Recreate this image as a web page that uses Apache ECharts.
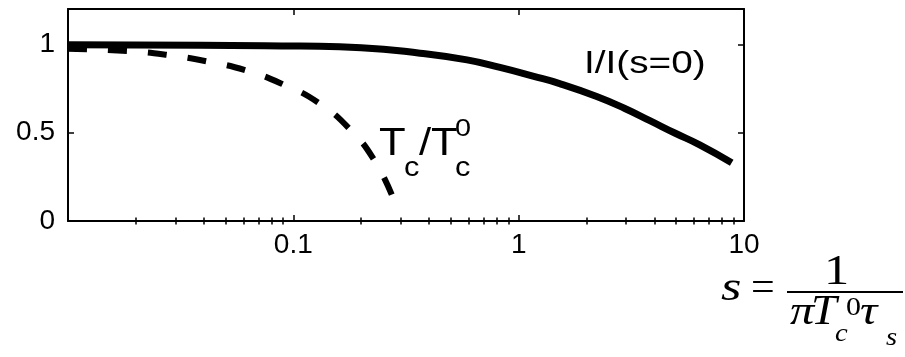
<!DOCTYPE html>
<html>
<head>
<meta charset="utf-8">
<script src="https://cdn.jsdelivr.net/npm/echarts@6/dist/echarts.min.js"></script>
<style>
  html, body { margin: 0; padding: 0; background: #fff; }
  #chart { width: 905px; height: 357px; }
</style>
</head>
<body>
<div id="chart"></div>
<script>
// Pair-breaking parameter s and the two normalised quantities
const sCurrent = [0.01, 0.039, 0.107, 0.2, 0.365, 0.59, 0.826, 1.157, 1.52, 2.22, 2.96, 3.82, 4.93, 6.36, 8.82];
const currentRatio = [0.998, 0.995, 0.99, 0.981, 0.95, 0.912, 0.869, 0.82, 0.778, 0.705, 0.637, 0.568, 0.498, 0.431, 0.33];

const sTc = [0.01, 0.0185, 0.0276, 0.0415, 0.0618, 0.0902, 0.129, 0.179, 0.231, 0.277];
const tcRatio = [0.975, 0.962, 0.94, 0.903, 0.852, 0.773, 0.67, 0.517, 0.335, 0.13];

// Axis ticks
const xLabelTicks = [0.1, 1, 10];
const xMinorTicks = [0.02, 0.03, 0.04, 0.05, 0.06, 0.07, 0.08, 0.09,
                     0.2, 0.3, 0.4, 0.5, 0.6, 0.7, 0.8, 0.9,
                     2, 3, 4, 5, 6, 7, 8, 9];
const yTicks = [0, 0.5, 1];

const toPairs = (xs, ys) => xs.map((x, i) => [x, ys[i]]);
const fmt = v => String(parseFloat(Number(v).toPrecision(3)));

const sansFont = '"Liberation Sans", Arial, sans-serif';
const serifFont = '"Liberation Serif", "Times New Roman", serif';

const chart = echarts.init(document.getElementById('chart'), null, { renderer: 'canvas' });

// Main logarithmic axes: frame line, decade ticks, labels
function xLogAxis(position, labels) {
  return {
    type: 'log', logBase: 10, min: 0.01, max: 10, position: position,
    axisLine: { show: true, onZero: false, lineStyle: { color: '#000', width: 2 } },
    axisTick: { show: true, inside: true, length: 6, lineStyle: { color: '#000', width: 1.5 } },
    axisLabel: labels ? {
      show: true, customValues: xLabelTicks, formatter: fmt, margin: 10,
      color: '#000', fontFamily: sansFont, fontSize: 28
    } : { show: false },
    splitLine: { show: false }, minorTick: { show: false }
  };
}

// Helper axes carrying the 2..9 minor ticks, laid out in decades (log10 units)
function xMinorAxis(position) {
  return {
    type: 'value', min: -2, max: 1, position: position,
    axisLine: { show: false },
    axisTick: { show: true, inside: true, length: 3.5,
                customValues: xMinorTicks.map(v => Math.log10(v)),
                lineStyle: { color: '#000', width: 1.5 } },
    axisLabel: { show: false },
    splitLine: { show: false }
  };
}

function yAxisDef(position, labels) {
  return {
    type: 'value', min: 0, max: 1.2, position: position,
    axisLine: { show: true, onZero: false, lineStyle: { color: '#000', width: 2 } },
    axisTick: { show: true, inside: true, length: 6, customValues: yTicks,
                lineStyle: { color: '#000', width: 1.5 } },
    axisLabel: labels ? {
      show: true, customValues: yTicks, formatter: fmt, margin: 13,
      color: '#000', fontFamily: sansFont, fontSize: 28
    } : { show: false },
    splitLine: { show: false }
  };
}

function txt(text, x, y, font, sx) {
  return {
    type: 'text', x: x, y: y, scaleX: sx || 1, silent: true,
    style: { text: text, font: font, fill: '#000', textAlign: 'left', textVerticalAlign: 'middle' }
  };
}

const option = {
  animation: false,
  backgroundColor: '#fff',
  grid: { left: 68, right: 161, top: 9, bottom: 136, containLabel: false },
  xAxis: [
    xLogAxis('bottom', true),
    xLogAxis('top', false),
    xMinorAxis('bottom'),
    xMinorAxis('top')
  ],
  yAxis: [yAxisDef('left', true), yAxisDef('right', false)],
  series: [
    {
      name: 'I/I(s=0)', type: 'line', xAxisIndex: 0, yAxisIndex: 0,
      data: toPairs(sCurrent, currentRatio),
      smooth: 0.5, showSymbol: false, silent: true,
      lineStyle: { color: '#000', width: 7, cap: 'butt', join: 'round' }
    },
    {
      name: 'Tc/Tc0', type: 'line', xAxisIndex: 0, yAxisIndex: 0,
      data: toPairs(sTc, tcRatio),
      smooth: 0.5, showSymbol: false, silent: true,
      lineStyle: { color: '#000', width: 6, type: [19, 21], cap: 'butt' }
    }
  ],
  graphic: [
    // curve labels
    txt('I/I(s=0)', 584, 64.5, '31px ' + sansFont, 1.25),
    txt('T', 379, 144.5, '39px ' + sansFont, 1.12),
    txt('c', 404, 168.3, '28px ' + sansFont, 1.1),
    txt('/', 419, 144.5, '39px ' + sansFont, 1.12),
    txt('T', 431, 144.5, '39px ' + sansFont, 1.12),
    txt('c', 455, 168.3, '28px ' + sansFont, 1.1),
    txt('0', 455, 129.7, '24px ' + sansFont, 1.2),
    // axis quantity: s = 1 / (pi Tc^0 tau_s)
    txt('s', 721, 288.7, 'italic 42px ' + serifFont, 1.25),
    txt('=', 751, 288.7, '42px ' + serifFont, 1.0),
    txt('1', 824, 272.7, '42px ' + serifFont, 1.2),
    {
      type: 'line', silent: true,
      shape: { x1: 787, y1: 292, x2: 903, y2: 292 },
      style: { stroke: '#000', lineWidth: 2 }
    },
    txt('\u03c0', 790, 312.7, 'italic 42px ' + serifFont, 1.15),
    txt('T', 811, 312.7, 'italic 42px ' + serifFont, 1.1),
    txt('c', 835, 334.2, 'italic 26px ' + serifFont, 1.1),
    txt('0', 846, 308.2, '26px ' + serifFont, 1.15),
    txt('\u03c4', 860, 312.7, 'italic 42px ' + serifFont, 1.15),
    txt('s', 886, 338.2, 'italic 26px ' + serifFont, 1.1)
  ]
};

chart.setOption(option);
</script>
</body>
</html>
